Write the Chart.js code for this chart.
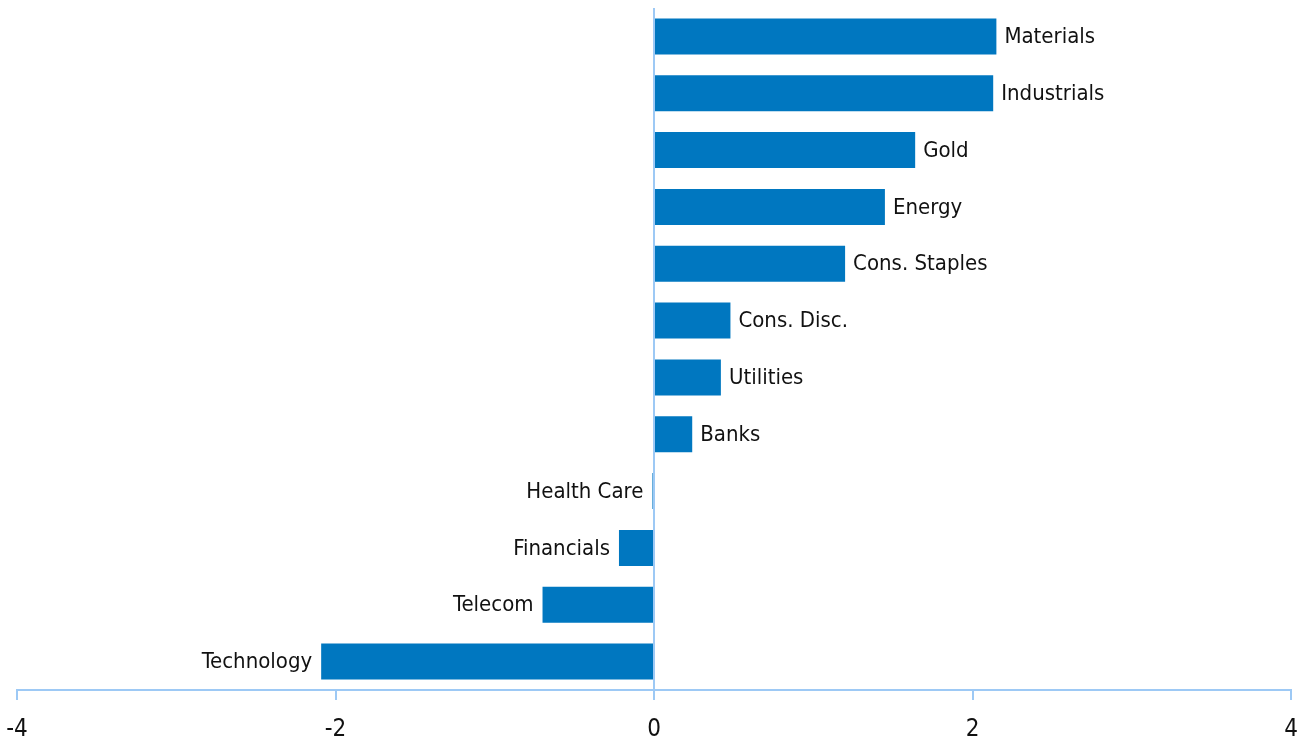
<!DOCTYPE html>
<html>
<head>
<meta charset="utf-8">
<script src="https://cdn.jsdelivr.net/npm/chart.js@4"></script>
<style>
  html, body { margin: 0; padding: 0; background: #fff; }
  #wrap { width: 1304px; height: 745px; }
</style>
</head>
<body>
<div id="wrap"><canvas id="sectorChart"></canvas></div>
<script>
const sectors = ["Materials", "Industrials", "Gold", "Energy", "Cons. Staples", "Cons. Disc.",
                 "Utilities", "Banks", "Health Care", "Financials", "Telecom", "Technology"];
const values = [2.15, 2.13, 1.64, 1.45, 1.20, 0.48, 0.42, 0.24, -0.01, -0.22, -0.70, -2.09];
const xTicks = [-4, -2, 0, 2, 4];

const axisBlue = "#9DC9F5";
const barBlue = "#0077C0";
const fontFamily = "'DejaVu Sans Condensed', 'Liberation Sans Narrow', sans-serif";

// labels sit at the end of each bar, outside
const barLabels = {
    id: "barLabels",
    afterDatasetsDraw(chart) {
        const ctx = chart.ctx;
        const meta = chart.getDatasetMeta(0);
        ctx.save();
        ctx.font = "22px " + fontFamily;
        ctx.fillStyle = "#111";
        ctx.textBaseline = "middle";
        meta.data.forEach(function (bar, i) {
            const v = values[i];
            if (v >= 0) {
                ctx.textAlign = "left";
                ctx.fillText(sectors[i], bar.x + 8, bar.y + 1);
            } else {
                ctx.textAlign = "right";
                ctx.fillText(sectors[i], bar.x - 9, bar.y + 1);
            }
        });
        ctx.restore();
    }
};

var ctx = document.getElementById("sectorChart").getContext("2d");

new Chart(ctx, {
    type: 'bar',
    data: {
        labels: sectors,
        datasets: [{
            data: values,
            backgroundColor: barBlue,
            barPercentage: 0.634,
            categoryPercentage: 1.0
        }]
    },
    options: {
        indexAxis: 'y',
        responsive: true,
        maintainAspectRatio: false,
        animation: false,
        layout: {
            padding: { left: 0, right: 0, top: 8, bottom: 0 }
        },
        plugins: {
            legend: { display: false },
            tooltip: { enabled: false }
        },
        scales: {
            x: {
                min: -4,
                max: 4,
                afterBuildTicks: function (axis) {
                    axis.ticks = xTicks.map(function (v) { return { value: v }; });
                },
                afterFit: function (axis) {
                    axis.height = 55;
                    axis.paddingLeft = 17;
                    axis.paddingRight = 13;
                },
                border: { color: axisBlue, width: 2 },
                grid: {
                    color: function (c) { return c.tick && c.tick.value === 0 ? axisBlue : 'transparent'; },
                    lineWidth: 2,
                    tickColor: axisBlue,
                    tickLength: 10,
                    drawOnChartArea: true
                },
                ticks: {
                    color: "#111",
                    padding: 15,
                    font: { family: fontFamily, size: 24 },
                    maxRotation: 0
                }
            },
            y: {
                display: false
            }
        }
    },
    plugins: [barLabels]
});
</script>
</body>
</html>
